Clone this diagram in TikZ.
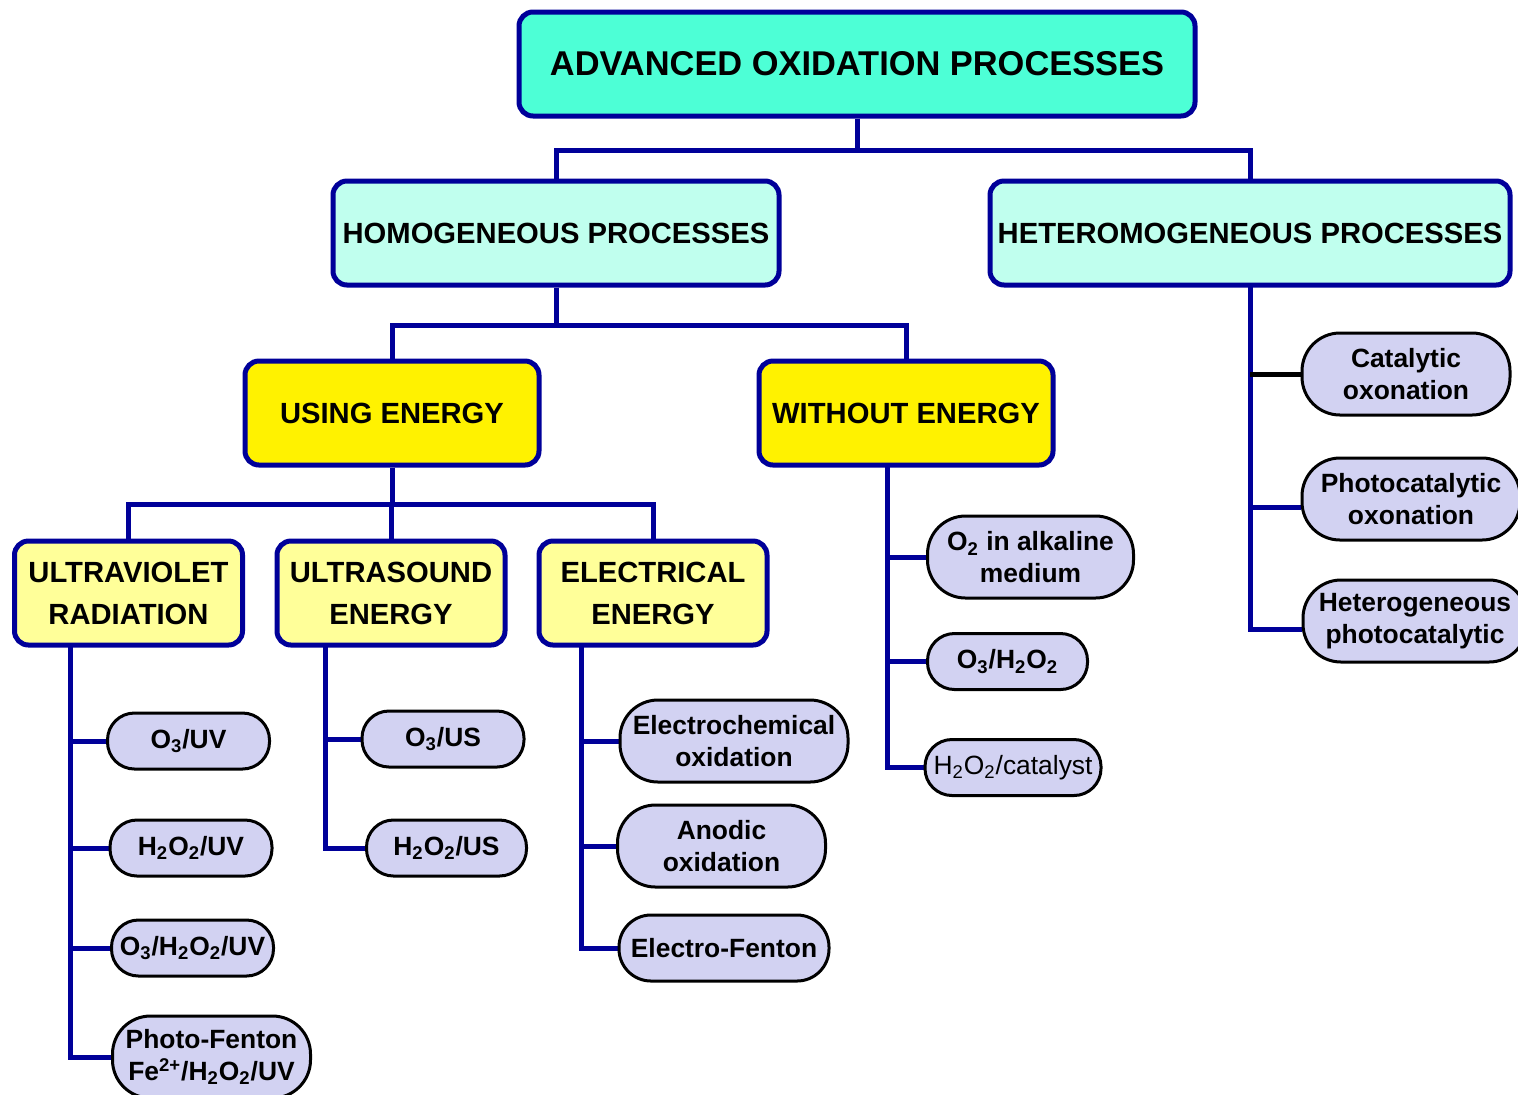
\documentclass[tikz,border=0pt]{standalone}
\usepackage{fontspec}
\setmainfont{Liberation Sans}
\usetikzlibrary{positioning, backgrounds}
\definecolor{LinkBlue}{RGB}{0,0,153}
\definecolor{AopGreen}{RGB}{77,255,214}
\definecolor{ProcGreen}{RGB}{192,255,238}
\definecolor{PaleYellow}{RGB}{255,255,153}
\definecolor{LeafBlue}{RGB}{210,210,242}

\tikzset{
  link/.style={draw=LinkBlue, line width=2.5pt},
  box/.style={draw=LinkBlue, line width=2.5pt, rounded corners=7pt, align=center,
    minimum height=52pt, inner sep=2pt},
  topbox/.style={box, fill=AopGreen, font=\fontsize{17.2}{20}\selectfont\bfseries},
  groupbox/.style={box, fill=ProcGreen, font=\fontsize{14.6}{18}\selectfont\bfseries},
  energybox/.style={box, fill=yellow, font=\fontsize{14.6}{18}\selectfont\bfseries},
  sourcebox/.style={box, fill=PaleYellow, font=\fontsize{14.6}{21}\selectfont\bfseries},
  leaf/.style={rectangle, rounded corners=13.5pt, draw=black, line width=1.5pt, fill=LeafBlue,
    align=center, inner xsep=0pt, inner ysep=1pt, minimum height=28pt,
    font=\fontsize{13.2}{16}\selectfont\bfseries},
  tallleaf/.style={leaf, rounded corners=19pt, minimum height=41pt},
}

\begin{document}
\begin{tikzpicture}[x=0.5pt, y=-0.5pt]
  \clip (0,0) rectangle (1518,1094);
  \useasboundingbox (0,0) rectangle (1518,1094);

  % top levels
  \node[topbox, minimum width=338pt] (aop) at (857,64) {ADVANCED OXIDATION PROCESSES};
  \node[groupbox, minimum width=223pt] (homo) at (556,233) {HOMOGENEOUS PROCESSES};
  \node[groupbox, minimum width=260pt] (hetero) at (1250,233) {HETEROMOGENEOUS PROCESSES};
  \node[energybox, minimum width=147pt] (using) at (392,413) {USING ENERGY};
  \node[energybox, minimum width=147pt] (without) at (906,413) {WITHOUT ENERGY};

  % energy sources
  \node[sourcebox, minimum width=114pt] (uv) at (128.5,593) {ULTRAVIOLET\\RADIATION};
  \node[sourcebox, minimum width=114pt] (us) at (391,593) {ULTRASOUND\\ENERGY};
  \node[sourcebox, minimum width=114pt] (elec) at (653,593) {ELECTRICAL\\ENERGY};

  % ultraviolet
  \node[leaf, minimum width=81pt] (o3uv) at (188.5,741) {O\textsubscript{3}/UV};
  \node[leaf, minimum width=81pt] (h2o2uv) at (191,848) {H\textsubscript{2}O\textsubscript{2}/UV};
  \node[leaf, minimum width=81pt] (o3h2o2uv) at (192.5,948) {O\textsubscript{3}/H\textsubscript{2}O\textsubscript{2}/UV};
  \node[tallleaf, minimum width=99pt] (photofenton) at (211.5,1057)
    {Photo-Fenton\\Fe\textsuperscript{2+}/H\textsubscript{2}O\textsubscript{2}/UV};

  % ultrasound
  \node[leaf, minimum width=81pt] (o3us) at (443,739) {O\textsubscript{3}/US};
  \node[leaf, minimum width=80pt] (h2o2us) at (446.5,848) {H\textsubscript{2}O\textsubscript{2}/US};

  % electrical
  \node[tallleaf, minimum width=114pt] (echem) at (734,741) {Electrochemical\\oxidation};
  \node[tallleaf, minimum width=104pt] (anodic) at (721.5,846) {Anodic\\oxidation};
  \node[leaf, minimum width=105pt, minimum height=33pt, rounded corners=16pt] (efenton) at (724,948) {Electro-Fenton};

  % without energy
  \node[tallleaf, minimum width=103pt] (o2alk) at (1030.5,557) {O\textsubscript{2} in alkaline\\medium};
  \node[leaf, minimum width=80pt] (o3h2o2) at (1007.5,661.5) {O\textsubscript{3}/H\textsubscript{2}O\textsubscript{2}};
  \node[leaf, minimum width=88pt, font=\fontsize{13.2}{16}\selectfont] (h2o2cat) at (1013,767.5) {H\textsubscript{2}O\textsubscript{2}/catalyst};

  % heterogeneous
  \node[tallleaf, minimum width=104pt] (catoxo) at (1406,374) {Catalytic\\oxonation};
  \node[tallleaf, minimum width=109pt] (photoxo) at (1411,499) {Photocatalytic\\oxonation};
  \node[tallleaf, minimum width=112pt] (hetphoto) at (1415,621) {Heterogeneous\\photocatalytic};

  \begin{pgfonlayer}{background}
    % tree branches
    \draw[link] (aop.south) -- ++(0,32) -| (homo.north);
    \draw[link] (aop.south) -- ++(0,32) -| (hetero.north);
    \draw[link] (homo.south) -- ++(0,38) -| (using.north);
    \draw[link] (homo.south) -- ++(0,38) -| (without.north);
    \draw[link] (using.south) -- ++(0,37) -| (uv.north);
    \draw[link] (using.south) -- ++(0,37) -| (us.north);
    \draw[link] (using.south) -- ++(0,37) -| (elec.north);

    % stems down to the leaves
    \coordinate (uvstem) at (70,645);
    \coordinate (usstem) at (325,645);
    \coordinate (elecstem) at (581,645);
    \coordinate (wostem) at (887,465);
    \coordinate (hetstem) at (1250,285);
    \foreach \leafname in {o3uv, h2o2uv, o3h2o2uv, photofenton}
      \draw[link] (uvstem) |- (\leafname.west);
    \foreach \leafname in {o3us, h2o2us}
      \draw[link] (usstem) |- (\leafname.west);
    \foreach \leafname in {echem, anodic, efenton}
      \draw[link] (elecstem) |- (\leafname.west);
    \foreach \leafname in {o2alk, o3h2o2, h2o2cat}
      \draw[link] (wostem) |- (\leafname.west);
    \draw[link] (hetstem) |- ([yshift=-4]photoxo.west);
    \draw[link] (hetstem) |- ([yshift=-4]hetphoto.west);
    \draw[link, draw=black] (hetstem |- catoxo.west) -- (catoxo.west);
  \end{pgfonlayer}
\end{tikzpicture}
\end{document}
